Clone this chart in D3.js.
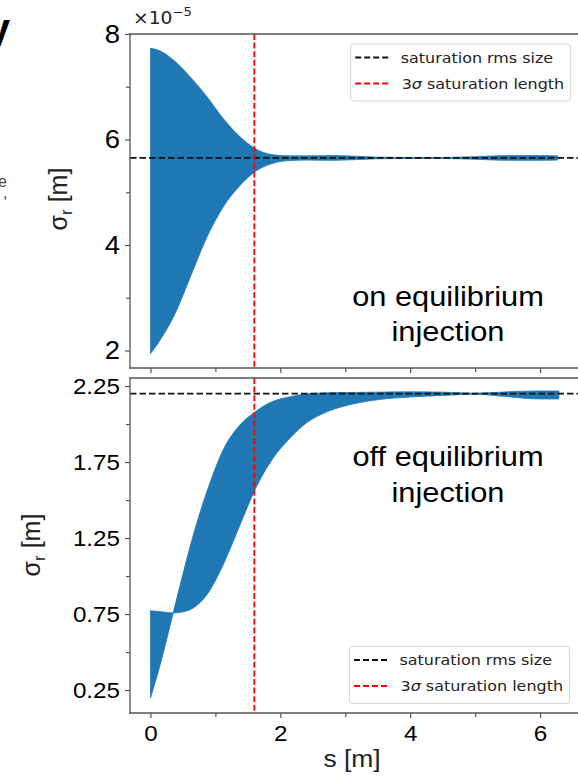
<!DOCTYPE html>
<html>
<head>
<meta charset="utf-8">
<script src="https://cdn.jsdelivr.net/npm/d3@7"></script>
<style>
  body { margin: 0; background: #fff; overflow: hidden; }
  svg { display: block; }
</style>
</head>
<body>
<script>
// ---- data ----
// top panel: on equilibrium injection (units of 1e-5 m)
var sTop     = [0, 0.15, 0.36, 0.61, 0.87, 1.12, 1.38, 1.61, 1.89, 2.15, 2.4, 2.77, 3.0, 3.5, 4.0, 4.5, 5.0, 5.5, 6.0, 6.27];
var topUpper = [7.73, 7.68, 7.50, 7.19, 6.81, 6.40, 6.05, 5.83, 5.71, 5.69, 5.69, 5.695, 5.69, 5.665, 5.66, 5.66, 5.675, 5.695, 5.695, 5.69];
var topLower = [1.94, 2.2, 2.65, 3.38, 4.15, 4.72, 5.13, 5.39, 5.55, 5.60, 5.61, 5.605, 5.61, 5.635, 5.64, 5.64, 5.625, 5.605, 5.605, 5.61];

// bottom panel: off equilibrium injection
var sBot   = [0, 0.15, 0.35, 0.51, 0.66, 0.87, 1.12, 1.38, 1.61, 1.89, 2.15, 2.4, 2.66, 2.92, 3.5, 4.0, 4.5, 5.0, 5.5, 6.0, 6.29];
var botA   = [0.197, 0.417, 0.757, 1.03, 1.27, 1.557, 1.83, 1.995, 2.08, 2.15, 2.18, 2.198, 2.205, 2.207, 2.21, 2.212, 2.21, 2.203, 2.212, 2.218, 2.218];
var botB   = [0.772, 0.766, 0.757, 0.765, 0.79, 0.877, 1.074, 1.337, 1.568, 1.776, 1.908, 2.007, 2.07, 2.11, 2.16, 2.178, 2.188, 2.196, 2.18, 2.165, 2.165];

var satTop = 5.65;      // saturation rms size, top
var satBot = 2.2;       // saturation rms size, bottom
var satLength = 1.6;    // 3 sigma saturation length [m]

var xTicks = [0, 2, 4, 6];
var xMinor = [1, 3, 5];
var topYTicks = [2, 4, 6, 8];
var topYMinor = [3, 5, 7];
var botYTicks = [0.25, 0.75, 1.25, 1.75, 2.25];
var botYMinor = [0.5, 1, 1.5, 2];
var legendLabels = ["saturation rms size", "saturation length"];

var w = 578, h = 777;
var blue = "#1f77b4";
var sx = 1.1; // picture is a bit stretched sideways

var svg = d3.select("body").append("svg")
  .attr("width", w)
  .attr("height", h);

var x = d3.scaleLinear().domain([-0.315, 6.7]).range([130, 585.5]);
var yTop = d3.scaleLinear().domain([1.668, 8.0]).range([368, 34]);
var yBot = d3.scaleLinear().domain([0.099, 2.303]).range([713, 378]);

// text helper, stretched a bit in x
function txt(g, tx, ty, str, size, family, anchor) {
  return g.append("text")
    .attr("transform", "translate(" + tx + "," + ty + ") scale(" + sx + ",1)")
    .attr("text-anchor", anchor || "start")
    .style("font-family", family)
    .style("font-size", size + "px")
    .style("fill", "#000")
    .text(str);
}

function panel(id, y, s, lo, hi, sat, yTicks, yMinor, yFont, xLabels) {
  var g = svg.append("g").attr("id", id);
  var x0 = x.range()[0], x1 = w;
  var yb = y.range()[0], yt = y.range()[1];

  var area = d3.area()
    .x(function(d, i) { return x(s[i]); })
    .y0(function(d, i) { return y(lo[i]); })
    .y1(function(d, i) { return y(hi[i]); })
    .curve(d3.curveMonotoneX);

  g.append("path")
    .datum(s)
    .attr("d", area)
    .style("fill", blue)
    .style("stroke", blue)
    .style("stroke-width", 0.8);

  g.append("line")
    .attr("x1", x0).attr("x2", x1)
    .attr("y1", y(sat)).attr("y2", y(sat))
    .style("stroke", "#111")
    .style("stroke-width", 1.8)
    .style("stroke-dasharray", "6.5,3");

  g.append("line")
    .attr("x1", x(satLength)).attr("x2", x(satLength))
    .attr("y1", yt).attr("y2", yb)
    .style("stroke", "#f00")
    .style("stroke-width", 1.8)
    .style("stroke-dasharray", "6,2.6");

  // axes
  var yAxis = d3.axisLeft(y).tickValues(yTicks).tickSize(5).tickPadding(4.1)
    .tickFormat(function(d) { return d; });
  var yMin = d3.axisLeft(y).tickValues(yMinor).tickSize(4).tickFormat("");
  var xAxis = d3.axisBottom(x).tickValues(xTicks).tickSize(5).tickPadding(7)
    .tickFormat(d3.format("d"));
  if (!xLabels) xAxis.tickFormat("");
  var xMin = d3.axisBottom(x).tickValues(xMinor).tickSize(4).tickFormat("");

  var ga = g.append("g").attr("transform", "translate(" + x0 + ",0)").call(yAxis);
  var gm = g.append("g").attr("transform", "translate(" + x0 + ",0)").call(yMin);
  var gx = g.append("g").attr("transform", "translate(0," + yb + ")").call(xAxis);
  var gxm = g.append("g").attr("transform", "translate(0," + yb + ")").call(xMin);

  [ga, gm, gx, gxm].forEach(function(a) {
    a.selectAll(".domain").remove();
    a.selectAll(".tick line").style("stroke", "#555").style("stroke-width", 1.2);
  });
  ga.selectAll(".tick text")
    .attr("transform", "scale(" + sx + ",1)")
    .style("font-family", "'Liberation Sans', Arial, sans-serif")
    .style("font-size", yFont + "px")
    .style("fill", "#000");
  gx.selectAll(".tick text")
    .attr("transform", "scale(" + sx + ",1)")
    .style("font-family", "'Liberation Sans', Arial, sans-serif")
    .style("font-size", "22px")
    .style("fill", "#000");

  // spines: left, top, bottom (right one is cut off by the picture)
  [[x0, yt, x1, yt], [x0, yt, x0, yb], [x0, yb, x1, yb]].forEach(function(l) {
    g.append("line")
      .attr("x1", l[0]).attr("y1", l[1]).attr("x2", l[2]).attr("y2", l[3])
      .style("stroke", "#555")
      .style("stroke-width", 1.3)
      .style("stroke-linecap", "square");
  });

  return g;
}

function legend(g, lx, ly) {
  var lg = g.append("g").attr("transform", "translate(" + lx + "," + ly + ")");
  lg.append("rect")
    .attr("x", 0).attr("y", 0).attr("width", 220).attr("height", 57)
    .attr("rx", 3)
    .style("fill", "#fff").style("fill-opacity", 0.85)
    .style("stroke", "#d4d4d4").style("stroke-width", 1);
  var colors = ["#111", "#f00"];
  colors.forEach(function(c, i) {
    var ry = 13.5 + i * 26;
    lg.append("line")
      .attr("x1", 4.5).attr("x2", 37.5).attr("y1", ry).attr("y2", ry)
      .style("stroke", c).style("stroke-width", 1.8).style("stroke-dasharray", "6,3");
    var t = lg.append("text")
      .attr("transform", "translate(" + (i === 0 ? 50 : 51) + "," + (ry + 5) + ") scale(" + sx + ",1)")
      .style("font-family", "'DejaVu Sans', sans-serif")
      .style("font-size", "14.5px")
      .style("fill", "#222");
    if (i === 1) {
      t.append("tspan").text("3");
      t.append("tspan").style("font-style", "italic").text("σ");
      t.append("tspan").text(" " + legendLabels[1]);
    } else {
      t.text(legendLabels[0]);
    }
  });
}

var gTop = panel("top", yTop, sTop, topLower, topUpper, satTop, topYTicks, topYMinor, 25, false);
var gBot = panel("bot", yBot, sBot, botA, botB, satBot, botYTicks, botYMinor, 22, true);

legend(gTop, 350.7, 44);
legend(gBot, 349.5, 646.5);

// offset text of the top panel
var off = svg.append("text")
  .attr("transform", "translate(133,24) scale(" + sx + ",1)")
  .style("font-family", "'DejaVu Sans', sans-serif")
  .style("font-size", "17px")
  .style("fill", "#222");
off.append("tspan").text("×10");
off.append("tspan").attr("dy", -8).style("font-size", "12px").text("−5");

// panel annotations
var arial = "'Liberation Sans', Arial, sans-serif";
txt(svg, 448, 306, "on equilibrium", 28, arial, "middle");
txt(svg, 448, 341, "injection", 28, arial, "middle");
txt(svg, 448, 466, "off equilibrium", 28, arial, "middle");
txt(svg, 448, 502, "injection", 28, arial, "middle");

// axis labels
function ylabel(tx, ty) {
  var t = svg.append("text")
    .attr("transform", "translate(" + tx + "," + ty + ") rotate(-90)")
    .attr("text-anchor", "middle")
    .style("font-family", arial)
    .style("font-size", "25px")
    .style("fill", "#222");
  t.append("tspan").text("σ");
  t.append("tspan").attr("dy", 5).style("font-size", "17px").text("r");
  t.append("tspan").attr("dy", -5).text(" [m]");
}
ylabel(67, 199);
ylabel(40, 545);

txt(svg, 352, 767, "s [m]", 24, arial, "middle").style("fill", "#222");

// bits of slide text cut off on the left
svg.append("text")
  .attr("x", 10).attr("y", 43)
  .attr("text-anchor", "end")
  .style("font-family", arial)
  .style("font-weight", "bold")
  .style("font-size", "42px")
  .text("y");
var frag = svg.append("text")
  .style("font-family", arial)
  .style("font-size", "16px")
  .style("fill", "#444");
frag.append("tspan").attr("x", -2).attr("y", 187).text("e");
frag.append("tspan").attr("x", 3).attr("y", 198).text(",");
</script>
</body>
</html>
